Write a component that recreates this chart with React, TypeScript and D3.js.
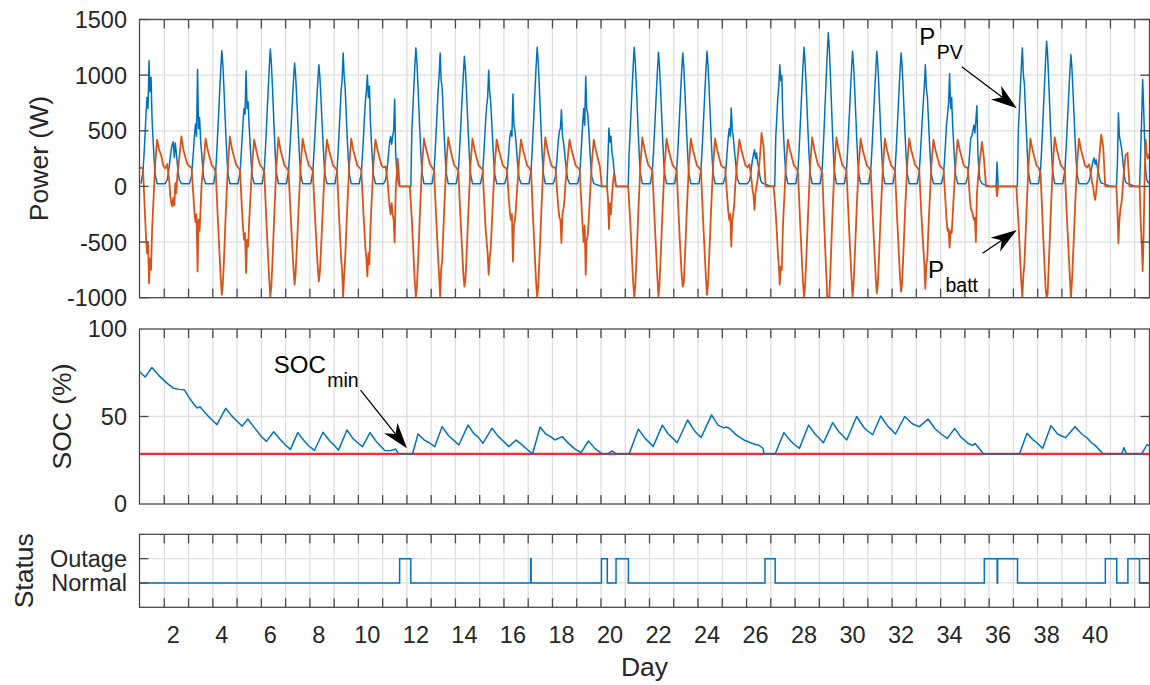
import React from 'react';
import * as d3 from 'd3';

// sample hours inside each day (noon of day D sits at x = D)
const PV_HOURS = [4, 6, 7, 8, 9, 10, 11, 12, 13, 14, 15, 16, 17, 18, 20];
const BATT_HOURS = [0, 2, 4, 6, 8, 9, 10, 11, 12, 13, 14, 15, 16, 18, 20, 22];
const FIRST_DAY = 1;

// P_PV (W), one row per day, starting with day 1
const pvByDay = [
  [25, 130, 280, 450, 650, 800, 700, 1130, 850, 980, 600, 420, 250, 110, 25],
  [25, 60, 110, 180, 260, 330, 380, 400, 260, 390, 300, 200, 120, 60, 25],
  [25, 90, 200, 330, 470, 560, 450, 1050, 520, 620, 420, 300, 180, 80, 25],
  [25, 145, 305, 490, 685, 880, 1060, 1220, 1100, 905, 685, 465, 270, 120, 25],
  [25, 120, 260, 420, 580, 700, 650, 1040, 700, 760, 560, 380, 220, 100, 25],
  [25, 150, 310, 495, 690, 890, 1075, 1235, 1110, 915, 690, 470, 270, 125, 25],
  [25, 135, 280, 445, 620, 800, 965, 1110, 1000, 820, 620, 420, 245, 110, 25],
  [25, 130, 275, 440, 610, 790, 950, 1094, 985, 810, 610, 415, 240, 110, 25],
  [25, 145, 300, 480, 670, 860, 950, 1200, 1000, 890, 670, 455, 265, 120, 25],
  [25, 120, 260, 420, 600, 760, 850, 1000, 800, 900, 580, 400, 230, 100, 25],
  [25, 60, 120, 200, 300, 400, 450, 380, 450, 500, 786, 300, 150, 60, 0],
  [0, 0, 0, 500, 695, 895, 1085, 1245, 1120, 920, 695, 475, 275, 125, 25],
  [25, 145, 300, 480, 670, 865, 1000, 1200, 950, 890, 670, 455, 265, 120, 25],
  [25, 140, 290, 470, 655, 840, 1015, 1169, 1050, 865, 655, 445, 255, 115, 25],
  [25, 125, 260, 420, 590, 720, 800, 1043, 850, 760, 590, 400, 230, 105, 25],
  [25, 100, 200, 330, 450, 500, 450, 831, 550, 500, 400, 280, 170, 80, 25],
  [25, 150, 310, 500, 700, 900, 1090, 1250, 1125, 925, 700, 475, 275, 125, 25],
  [25, 90, 180, 300, 420, 500, 520, 690, 450, 400, 320, 220, 140, 70, 25],
  [25, 110, 240, 400, 560, 700, 550, 989, 700, 650, 520, 350, 200, 90, 25],
  [0, 0, 0, 0, 0, 250, 525, 400, 450, 300, 250, 150, 80, 0, 0],
  [0, 0, 310, 500, 700, 900, 1090, 1250, 1125, 925, 700, 475, 275, 125, 25],
  [25, 145, 300, 480, 670, 865, 1045, 1205, 1080, 890, 670, 455, 265, 120, 25],
  [25, 145, 300, 480, 670, 865, 1045, 1200, 1080, 890, 670, 455, 265, 120, 25],
  [25, 145, 305, 485, 680, 875, 1055, 1214, 1090, 900, 680, 460, 265, 120, 25],
  [25, 90, 190, 320, 440, 520, 450, 705, 500, 450, 340, 240, 150, 70, 25],
  [25, 50, 100, 170, 240, 290, 330, 250, 300, 220, 170, 110, 60, 35, 25],
  [0, 0, 0, 440, 610, 790, 900, 1094, 950, 1000, 610, 415, 240, 110, 25],
  [25, 150, 310, 500, 700, 900, 1090, 1250, 1125, 925, 700, 475, 275, 125, 25],
  [25, 165, 345, 550, 775, 995, 1200, 1380, 1240, 1020, 775, 525, 305, 140, 25],
  [25, 145, 305, 485, 680, 875, 1055, 1214, 1090, 900, 680, 460, 265, 120, 25],
  [25, 145, 305, 485, 680, 875, 1055, 1214, 1090, 900, 680, 460, 265, 120, 25],
  [25, 145, 300, 480, 670, 865, 1045, 1200, 1080, 890, 670, 455, 265, 120, 25],
  [25, 130, 275, 440, 610, 760, 900, 1094, 880, 810, 610, 415, 240, 110, 25],
  [25, 110, 240, 400, 560, 650, 750, 1013, 700, 800, 560, 380, 220, 100, 25],
  [25, 90, 190, 320, 440, 450, 500, 550, 480, 600, 725, 300, 150, 60, 25],
  [0, 0, 0, 0, 0, 0, 220, 0, 0, 0, 0, 0, 0, 0, 0],
  [0, 0, 0, 500, 695, 895, 1085, 1245, 1000, 920, 695, 475, 275, 125, 25],
  [25, 155, 325, 520, 730, 940, 1135, 1304, 1175, 965, 730, 495, 285, 130, 25],
  [25, 140, 295, 475, 665, 855, 1030, 1184, 1065, 875, 665, 450, 260, 120, 25],
  [25, 50, 90, 140, 190, 230, 255, 200, 240, 180, 140, 90, 50, 30, 25],
  [0, 0, 0, 0, 0, 200, 660, 450, 400, 350, 260, 170, 90, 40, 25],
  [0, 0, 0, 0, 300, 600, 960, 700, 400, 150, 60, 40, 30, 25, 25],
];

// P_batt (W), one row per day, starting with day 1
const battByDay = [
  [180, 160, 170, 160, -250, -450, -600, -500, -869, -650, -750, -400, -200, 190, 420, 330],
  [280, 190, 160, 200, 50, -80, -150, -180, -100, -170, 30, -60, 100, 260, 450, 330],
  [260, 200, 180, 170, -100, -250, -320, -250, -764, -300, -400, -200, 20, 220, 430, 330],
  [260, 190, 170, 130, -280, -470, -660, -830, -974, -880, -690, -460, -220, 180, 450, 340],
  [270, 200, 170, 150, -220, -370, -480, -420, -777, -480, -540, -330, -150, 200, 420, 330],
  [250, 190, 170, 130, -290, -480, -670, -850, -990, -900, -700, -470, -230, 180, 440, 330],
  [260, 190, 170, 140, -240, -410, -590, -750, -884, -780, -600, -400, -190, 190, 430, 330],
  [260, 190, 170, 140, -240, -400, -580, -740, -854, -770, -590, -390, -190, 190, 420, 330],
  [260, 190, 170, 140, -270, -450, -640, -750, -990, -800, -660, -430, -210, 180, 430, 330],
  [260, 190, 170, 150, -220, -380, -550, -650, -809, -600, -700, -380, -180, 200, 420, 330],
  [260, 190, 170, 180, 50, -80, -180, -250, -150, -250, -300, -503, -50, 250, 0, 0],
  [0, 0, 0, 0, -300, -490, -690, -870, -990, -910, -700, -480, -240, 180, 430, 340],
  [270, 200, 170, 140, -270, -450, -650, -800, -990, -750, -670, -440, -210, 190, 440, 340],
  [260, 190, 170, 140, -260, -440, -620, -790, -900, -840, -650, -430, -210, 190, 430, 330],
  [260, 190, 170, 150, -210, -380, -500, -600, -794, -650, -560, -370, -170, 200, 420, 330],
  [260, 190, 170, 160, -120, -230, -300, -250, -674, -350, -300, -200, -50, 220, 420, 330],
  [260, 190, 170, 130, -300, -490, -690, -870, -1000, -900, -700, -480, -245, 175, 440, 340],
  [260, 190, 170, 170, -80, -200, -280, -300, -509, -250, -200, -120, 30, 230, 420, 330],
  [260, 190, 170, 150, -200, -360, -500, -350, -794, -480, -440, -300, -120, 210, 420, 330],
  [250, 180, 0, 0, 0, 0, -100, -383, -150, -250, -80, 30, 120, 0, 0, 0],
  [0, 0, 0, 0, -300, -490, -690, -870, -990, -900, -700, -480, -245, 175, 440, 340],
  [260, 190, 170, 140, -270, -460, -650, -830, -990, -880, -670, -450, -220, 180, 430, 330],
  [260, 190, 170, 140, -270, -460, -640, -800, -900, -870, -670, -450, -220, 180, 430, 330],
  [260, 190, 170, 140, -270, -460, -650, -830, -975, -880, -670, -450, -220, 180, 430, 330],
  [260, 190, 170, 170, -100, -220, -300, -250, -540, -300, -250, -150, 20, 230, 420, 330],
  [260, 190, 170, 200, 60, -30, -80, -210, -50, 0, 60, 150, 220, 480, 350, 0],
  [0, 0, 0, 0, -240, -400, -580, -700, -884, -720, -750, -390, -190, 190, 420, 330],
  [260, 190, 170, 130, -300, -490, -690, -870, -990, -900, -700, -480, -245, 175, 440, 340],
  [260, 190, 170, 120, -350, -570, -790, -990, -1000, -990, -780, -530, -280, 160, 440, 340],
  [260, 190, 170, 140, -270, -460, -650, -830, -990, -880, -670, -450, -220, 180, 430, 330],
  [260, 190, 170, 140, -270, -460, -650, -830, -960, -880, -670, -450, -220, 180, 430, 330],
  [260, 190, 170, 140, -270, -450, -640, -820, -945, -870, -660, -440, -215, 180, 430, 330],
  [260, 190, 170, 140, -240, -400, -550, -700, -920, -700, -640, -390, -190, 190, 420, 330],
  [260, 190, 170, 150, -150, -300, -400, -380, -550, -400, -420, -280, -100, 210, 420, 330],
  [260, 190, 170, 170, -100, -200, -220, -250, -300, -280, -500, -80, 60, 240, 400, 250],
  [0, 0, 0, 0, 0, 0, 0, -90, 0, 0, 0, 0, 0, 0, 0, 0],
  [0, 0, 0, 0, -300, -490, -690, -870, -1000, -790, -700, -480, -240, 180, 430, 330],
  [260, 190, 170, 120, -320, -530, -730, -920, -1000, -960, -730, -500, -260, 170, 440, 340],
  [260, 190, 170, 140, -270, -450, -640, -820, -1000, -860, -660, -440, -215, 180, 430, 330],
  [260, 190, 170, 200, 100, 30, 0, -80, -120, -50, 50, 150, 250, 465, 350, 0],
  [0, 0, 0, 0, 0, 0, -200, -510, -300, -200, -150, -50, 80, 280, 300, 0],
  [0, 0, 0, 0, 0, -300, -500, -760, -400, 100, 420, 300, 250, 300, 400, 300],
];

// SOC (%) as [day, value]
const socPoints = [
  [0.61, 75.6], [0.84, 72.6], [1.12, 78.0], [1.4, 73.5], [1.7, 69.5], [2.0, 66.2], [2.25, 65.5],
  [2.45, 65.3], [2.62, 61.5], [2.85, 57.0], [2.98, 54.8], [3.1, 55.6], [3.35, 51.5], [3.6, 48],
  [3.8, 45.3], [4.16, 54.7], [4.4, 50.5], [4.65, 47], [4.84, 44.5], [5.07, 48.6], [5.35, 43.5],
  [5.6, 39], [5.84, 35.8], [6.14, 41.3], [6.4, 37], [6.6, 34], [6.83, 31.2], [7.13, 40.8],
  [7.4, 36], [7.6, 33], [7.82, 30.6], [8.17, 41.0], [8.45, 36], [8.6, 34], [8.81, 30.8],
  [9.16, 42.3], [9.4, 37.5], [9.6, 35], [9.8, 32.8], [10.11, 40.8], [10.35, 36], [10.55, 33],
  [10.72, 30.6], [10.95, 30.5], [11.17, 31.4], [11.28, 28.8], [11.48, 28.6], [11.86, 28.6],
  [12.09, 40.0], [12.35, 36.5], [12.55, 35], [12.78, 32.8], [13.08, 44.2], [13.35, 39],
  [13.55, 36.5], [13.77, 33.7], [14.15, 45.1], [14.4, 40], [14.55, 38.5], [14.76, 34.7],
  [15.14, 43.3], [15.4, 38.5], [15.6, 36], [15.83, 32.8], [16.13, 36.6], [16.4, 33.5],
  [16.6, 31], [16.81, 28.6], [17.12, 44.0], [17.35, 40], [17.55, 38.5], [17.73, 36.6],
  [18.03, 38.5], [18.3, 34.5], [18.55, 31.5], [18.81, 29.3], [19.11, 36.0], [19.4, 31.5],
  [19.65, 28.9], [19.9, 28.6], [20.1, 30.3], [20.25, 28.6], [20.79, 28.6], [21.17, 42.8],
  [21.45, 37.5], [21.6, 35.5], [21.78, 32.8], [22.16, 45.1], [22.4, 40], [22.6, 37.5],
  [22.77, 35.0], [23.2, 48.0], [23.45, 42.5], [23.6, 40], [23.76, 38.1], [24.19, 50.9],
  [24.45, 45.1], [24.7, 43.5], [24.8, 44.0], [24.95, 43.0], [25.2, 39.5], [25.52, 36.6],
  [25.8, 35], [26.0, 34], [26.13, 33.7], [26.3, 32.0], [26.36, 28.6], [26.81, 28.6],
  [27.17, 40.8], [27.45, 36], [27.6, 34], [27.81, 31.8], [28.19, 45.1], [28.45, 40],
  [28.6, 38], [28.8, 35.0], [29.18, 46.5], [29.45, 41], [29.6, 39], [29.76, 36.6],
  [30.17, 50.0], [30.45, 44], [30.6, 42], [30.83, 39.6], [31.16, 50.3], [31.45, 44.5],
  [31.6, 42.5], [31.77, 40.0], [32.15, 50.0], [32.45, 46], [32.6, 45], [32.76, 44.2],
  [33.11, 48.6], [33.4, 43], [33.65, 40], [33.91, 37.5], [34.21, 43.2], [34.45, 38.5],
  [34.75, 34.7], [34.95, 33.5], [35.05, 34.5], [35.15, 33], [35.4, 28.6], [36.88, 28.6],
  [37.19, 40.4], [37.45, 36.5], [37.6, 35], [37.84, 31.8], [38.18, 44.8], [38.45, 40],
  [38.6, 39], [38.78, 37.9], [39.17, 44.2], [39.45, 40], [39.65, 38], [39.85, 35.0],
  [40.0, 33.5], [40.31, 28.9], [41.1, 28.6], [41.18, 32.2], [41.3, 28.6], [41.92, 28.6],
  [42.14, 34.0], [42.24, 33],
];
const SOC_MIN = 28.6;

// outage intervals [start day, end day]
const outages = [
  [11.33, 11.79], [16.73, 16.75], [19.65, 19.89], [20.25, 20.76], [26.39, 26.81],
  [35.43, 35.96], [35.98, 36.8], [40.42, 40.89], [41.35, 41.83],
];

const powerTicks = [-1000, -500, 0, 500, 1000, 1500];
const socTicks = [0, 50, 100];
const statusTicks = [0, 1];
const statusLabels = ['Normal', 'Outage'];
const dayLabels = [2, 4, 6, 8, 10, 12, 14, 16, 18, 20, 22, 24, 26, 28, 30, 32, 34, 36, 38, 40];
const dayTicks = d3.range(1, 42).map((d) => d + 0.63);

// annotations in data units: label anchor, arrow start, arrow tip
const pvNote = { at: [32.75, 1271], from: [34.5, 1076], to: [36.77, 702] };
const battNote = { at: [33.11, -823], from: [35.36, -601], to: [36.77, -392] };
const socNote = { at: [6.14, 74.9], from: [9.72, 65.1], to: [11.63, 31.8] };

const BLUE = '#0072BD';
const ORANGE = '#D95319';
const TXT = '#262626';
const GRID = '#dedede';
const AX = '#4a4a4a';
const FONT = '"Liberation Sans", Arial, Helvetica, sans-serif';

const W = 1150;
const H = 685;
const LEFT = 139.5;
const RIGHT = 1149.5;
const TICK = 9;

const x = d3.scaleLinear().domain([0.607, 42.24]).range([LEFT, RIGHT]);
const yP = d3.scaleLinear().domain([-1000, 1500]).range([297.7, 19.5]);
const yS = d3.scaleLinear().domain([0, 100]).range([504, 329]);
const yQ = d3.scaleLinear().domain([-1, 2]).range([607.3, 534.3]);

function toSeries(rows, hours) {
  return rows.flatMap((row, i) =>
    row.map((v, j) => [FIRST_DAY + i - 0.5 + hours[j] / 24, v]));
}

function Panel({ id, y, yTicks, children }) {
  const [y0, y1] = y.range();
  const top = Math.min(y0, y1);
  const bottom = Math.max(y0, y1);
  return (
    <g>
      <defs>
        <clipPath id={id}>
          <rect x={LEFT} y={top} width={RIGHT - LEFT} height={bottom - top} />
        </clipPath>
      </defs>
      {dayTicks.map((d) => (
        <line key={'gx' + d} x1={x(d)} x2={x(d)} y1={top} y2={bottom} stroke={GRID} strokeWidth={1.3} />
      ))}
      {yTicks.map((t) => (
        <line key={'gy' + t} x1={LEFT} x2={RIGHT} y1={y(t)} y2={y(t)} stroke={GRID} strokeWidth={1.3} />
      ))}
      <g clipPath={`url(#${id})`}>{children}</g>
      <rect x={LEFT} y={top} width={RIGHT - LEFT} height={bottom - top} fill="none" stroke={AX} strokeWidth={1.3} />
      {dayTicks.map((d) => (
        <g key={'tx' + d} stroke={AX} strokeWidth={1.3}>
          <line x1={x(d)} x2={x(d)} y1={top} y2={top + TICK} />
          <line x1={x(d)} x2={x(d)} y1={bottom} y2={bottom - TICK} />
        </g>
      ))}
      {yTicks.map((t) => (
        <g key={'ty' + t} stroke={AX} strokeWidth={1.3}>
          <line x1={LEFT} x2={LEFT + TICK} y1={y(t)} y2={y(t)} />
          <line x1={RIGHT} x2={RIGHT - TICK} y1={y(t)} y2={y(t)} />
        </g>
      ))}
    </g>
  );
}

function Arrow({ from, to }) {
  const [x0, y0] = from;
  const [x1, y1] = to;
  const len = Math.hypot(x1 - x0, y1 - y0);
  const ux = (x1 - x0) / len;
  const uy = (y1 - y0) / len;
  const L = 26;
  const w = 8.5;
  const bx = x1 - ux * L;
  const by = y1 - uy * L;
  const nx = x1 - ux * L * 0.7;
  const ny = y1 - uy * L * 0.7;
  const pts = [
    [x1, y1],
    [bx - uy * w, by + ux * w],
    [nx, ny],
    [bx + uy * w, by - ux * w],
  ];
  return (
    <g>
      <line x1={x0} y1={y0} x2={nx} y2={ny} stroke="#000" strokeWidth={1.3} />
      <polygon points={pts.map((p) => p.join(',')).join(' ')} fill="#000" />
    </g>
  );
}

export default function App() {
  const pvSeries = toSeries(pvByDay, PV_HOURS);
  const battSeries = toSeries(battByDay, BATT_HOURS);

  const powerLine = d3.line().x((d) => x(d[0])).y((d) => yP(d[1]));
  const socLine = d3.line().x((d) => x(d[0])).y((d) => yS(d[1]));
  const statusPts = [[x.domain()[0], 0]];
  outages.forEach(([s, e]) => {
    statusPts.push([s, 1]);
    statusPts.push([e, 0]);
  });
  statusPts.push([x.domain()[1], 0]);
  const statusLine = d3.line().x((d) => x(d[0])).y((d) => yQ(d[1])).curve(d3.curveStepAfter);

  const [xd0, xd1] = x.domain();
  const fs = 23.5;

  const sub = (main, subTxt, px, py) => (
    <text x={px} y={py} fontSize={24} fill="#000">
      {main}
      <tspan dx={1.5} dy={14} fontSize={19.5}>{subTxt}</tspan>
    </text>
  );

  return (
    <svg width={W} height={H} style={{ position: 'absolute', left: 0, top: 0, background: '#fff' }}
      fontFamily={FONT}>
      <rect width={W} height={H} fill="#fff" />

      <Panel id="cp-power" y={yP} yTicks={powerTicks}>
        <path d={powerLine(pvSeries)} fill="none" stroke={BLUE} strokeWidth={1.5} strokeLinejoin="round" />
        <path d={powerLine(battSeries)} fill="none" stroke={ORANGE} strokeWidth={1.8} strokeLinejoin="round" />
      </Panel>

      <Panel id="cp-soc" y={yS} yTicks={[50]}>
        <line x1={x(xd0)} x2={x(xd1)} y1={yS(SOC_MIN)} y2={yS(SOC_MIN)} stroke="#ff2b2b" strokeWidth={2.2} />
        <path d={socLine(socPoints)} fill="none" stroke={BLUE} strokeWidth={1.5} strokeLinejoin="round" />
      </Panel>

      <Panel id="cp-status" y={yQ} yTicks={statusTicks}>
        <path d={statusLine(statusPts)} fill="none" stroke={BLUE} strokeWidth={1.5} />
      </Panel>

      {/* y tick labels */}
      <g fill={TXT} fontSize={fs} textAnchor="end">
        {powerTicks.map((t) => (
          <text key={'pl' + t} x={127} y={yP(t)} dy="0.36em">{t}</text>
        ))}
        {socTicks.map((t) => (
          <text key={'sl' + t} x={127} y={yS(t)} dy="0.36em">{t}</text>
        ))}
        {statusTicks.map((t, i) => (
          <text key={'ql' + t} x={127} y={yQ(t)} dy="0.36em">{statusLabels[i]}</text>
        ))}
      </g>

      {/* x tick labels */}
      <g fill={TXT} fontSize={fs} textAnchor="middle">
        {dayLabels.map((d) => (
          <text key={'xl' + d} x={x(d)} y={643}>{d}</text>
        ))}
      </g>

      {/* axis labels */}
      <g fill={TXT} fontSize={26.5} textAnchor="middle">
        <text transform={`translate(47.5,${(yP.range()[0] + yP.range()[1]) / 2}) rotate(-90)`}>Power (W)</text>
        <text transform={`translate(71,${(yS.range()[0] + yS.range()[1]) / 2}) rotate(-90)`}>SOC (%)</text>
        <text transform={`translate(33,${(yQ.range()[0] + yQ.range()[1]) / 2}) rotate(-90)`}>Status</text>
        <text x={(LEFT + RIGHT) / 2} y={676}>Day</text>
      </g>

      {/* annotations */}
      {sub('P', 'PV', x(pvNote.at[0]), yP(pvNote.at[1]))}
      <Arrow from={[x(pvNote.from[0]), yP(pvNote.from[1])]} to={[x(pvNote.to[0]), yP(pvNote.to[1])]} />
      {sub('P', 'batt', x(battNote.at[0]), yP(battNote.at[1]))}
      <Arrow from={[x(battNote.from[0]), yP(battNote.from[1])]} to={[x(battNote.to[0]), yP(battNote.to[1])]} />
      {sub('SOC', 'min', x(socNote.at[0]), yS(socNote.at[1]))}
      <Arrow from={[x(socNote.from[0]), yS(socNote.from[1])]} to={[x(socNote.to[0]), yS(socNote.to[1])]} />
    </svg>
  );
}
